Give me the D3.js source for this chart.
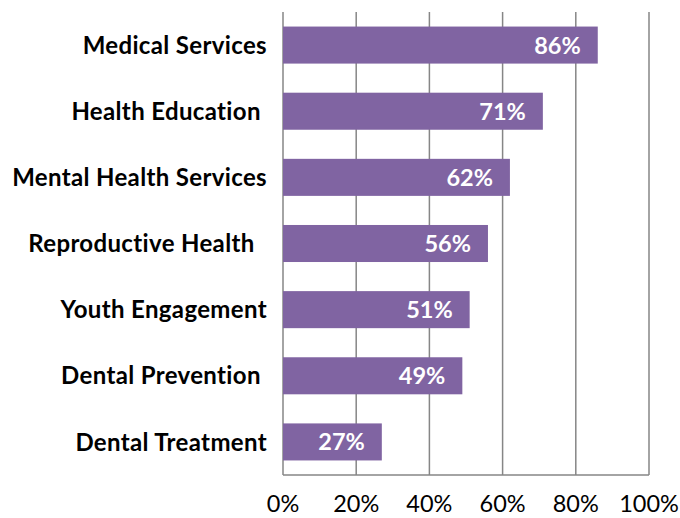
<!DOCTYPE html>
<html><head><meta charset="utf-8">
<script src="https://cdn.jsdelivr.net/npm/d3@7"></script>
<style>body{margin:0;background:#fff}</style>
</head><body>
<svg id="c" width="680" height="518"></svg>
<script>
const categories = ["Medical Services","Health Education ","Mental Health Services","Reproductive Health  ","Youth Engagement","Dental Prevention ","Dental Treatment"];
const values = [86,71,62,56,51,49,27];
const tickValues = [0,20,40,60,80,100];
const tickLabels = ["0%","20%","40%","60%","80%","100%"];

const svg = d3.select("#c");
const font = "Lato, 'Open Sans', sans-serif";
const x = d3.scaleLinear().domain([0,100]).range([283,649]);
const y = d3.scaleBand().domain(categories).range([12,475]).paddingInner(0.44).paddingOuter(0.22);

// gridlines
svg.append("g").selectAll("line").data(tickValues).join("line")
  .attr("x1",d=>x(d)).attr("x2",d=>x(d)).attr("y1",12).attr("y2",475)
  .attr("stroke","#868686").attr("stroke-width",1.5);
svg.append("line").attr("x1",x(0)).attr("x2",x(100)).attr("y1",475).attr("y2",475)
  .attr("stroke","#868686").attr("stroke-width",1.5);

// bars
svg.append("g").selectAll("rect").data(values).join("rect")
  .attr("x",x(0)).attr("y",(d,i)=>y(categories[i]))
  .attr("width",d=>x(d)-x(0)).attr("height",y.bandwidth())
  .attr("fill","#8064A2");

// value labels
svg.append("g").selectAll("text").data(values).join("text")
  .attr("x",d=>x(d)-17).attr("y",(d,i)=>y(categories[i])+y.bandwidth()/2)
  .attr("dy","0.36em").attr("text-anchor","end")
  .attr("fill","#fff").attr("font-family",font).attr("font-weight","bold").attr("font-size",23.5)
  .text(d=>d+"%");

// category labels
svg.append("g").selectAll("text").data(categories).join("text")
  .attr("x",267).attr("y",d=>y(d)+y.bandwidth()/2)
  .attr("dy","0.36em").attr("text-anchor","end")
  .style("white-space","pre")
  .attr("fill","#000").attr("font-family",font).attr("font-weight","bold").attr("font-size",24)
  .attr("letter-spacing",0.35)
  .text(d=>d);

// x tick labels
svg.append("g").selectAll("text").data(tickValues).join("text")
  .attr("x",d=>x(d)).attr("y",512).attr("text-anchor","middle")
  .attr("fill","#000").attr("font-family",font).attr("font-size",23.5)
  .text((d,i)=>tickLabels[i]);
</script>
</body></html>
